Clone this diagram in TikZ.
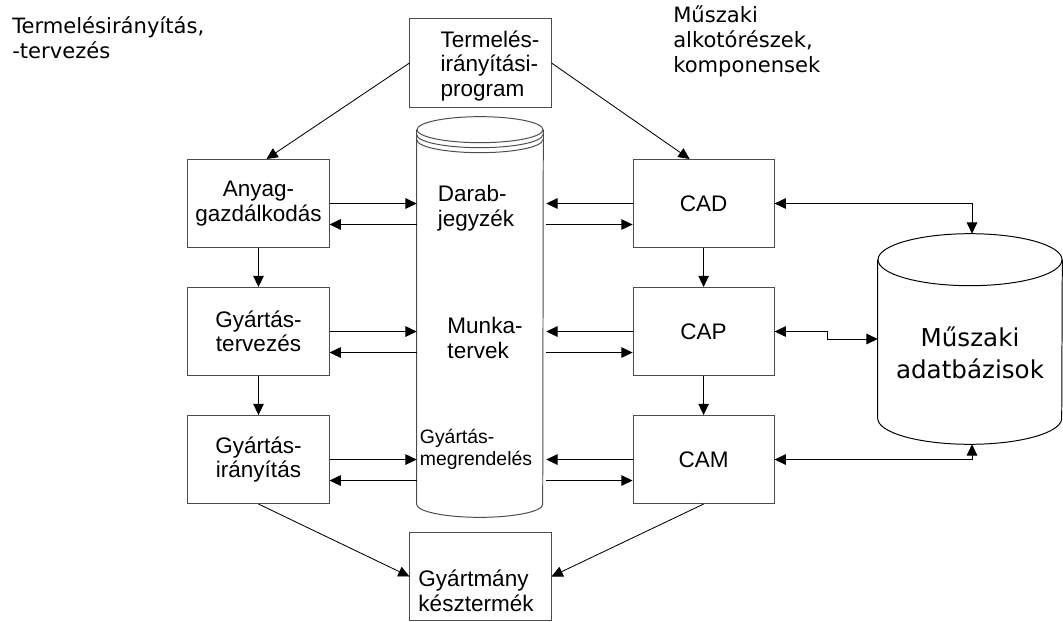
\documentclass[tikz,border=0pt]{standalone}
\usepackage{fontspec}
\setmainfont{Liberation Sans}
\newfontfamily\comicfont{DejaVu Sans}
\usetikzlibrary{arrows.meta,positioning,calc}

\tikzset{
  box/.style={draw=black!70, line width=0.7pt, minimum width=3.525cm,
    minimum height=2.2cm, inner sep=0pt, align=center,
    font=\fontsize{16}{17.5}\selectfont},
  conn/.style={line width=0.6pt, -{Triangle[length=8pt,width=7.5pt]}},
  dbl/.style={line width=0.6pt,
    {Triangle[length=8pt,width=7.5pt]}-{Triangle[length=8pt,width=7.5pt]}},
  cyl/.style={draw=black!70, line width=0.7pt},
  dbtext/.style={align=left, inner sep=0pt, font=\fontsize{16}{17.5}\selectfont},
  comic/.style={align=left, inner sep=0pt, font=\comicfont\fontsize{15}{18}\selectfont}
}

\begin{document}
\begin{tikzpicture}[x=0.025cm, y=0.025cm]
    \useasboundingbox (0,0) rectangle (1063,621);

    % headings
    \node[comic, anchor=north west] (ttitle) at (12,605) {Termelésirányítás,\\-tervezés};
    \node[comic, anchor=north west] (mtitle) at (673,616) {Műszaki\\alkotórészek,\\komponensek};

    % program box
    \node[box] (prog) at (480.5,558) {};
    \node[dbtext] (progtext) at (490,555) {Termelés-\\irányítási-\\program};

    % left column
    \node[box] (anyag) at (258.5,417.5) {Anyag-\\gazdálkodás};
    \node[box, below=0.975cm of anyag] (gyttervez) {Gyártás-\\tervezés};
    \node[box, below=0.975cm of gyttervez] (gytiranyit) {Gyártás-\\irányítás};

    % right column
    \node[box, right=7.575cm of anyag] (cad) {CAD};
    \node[box, below=0.975cm of cad] (cap) {CAP};
    \node[box, below=0.975cm of cap] (cam) {CAM};

    % product
    \node[box] (termek) at (480.5,44.5) {};
    \node[dbtext] (termektext) at (476,30) {Gyártmány\\késztermék};

    % central database
    \node[minimum width=3.15cm, minimum height=9.35cm, inner sep=0pt] (db) at (480,304) {};
    \draw[cyl] (db.north west) -- (db.south west)
        arc[start angle=180, end angle=360, x radius=63, y radius=13] -- (db.north east);
    \draw[cyl] (db.north) ellipse [x radius=63, y radius=13];
    \draw[cyl] ($(db.north west)+(0,-5)$) arc[start angle=180, end angle=360, x radius=63, y radius=13];
    \draw[cyl] ($(db.north west)+(0,-10)$) arc[start angle=180, end angle=360, x radius=63, y radius=13];
    \node[dbtext] (darab) at (476,413) {Darab-\\jegyzék};
    \node[dbtext] (munka) at (485,283) {Munka-\\tervek};
    \node[dbtext, font=\fontsize{13.8}{15.5}\selectfont] (megrend) at (476,172) {Gyártás-\\megrendelés};

    % engineering database
    \node[minimum width=4.6cm, minimum height=3.95cm, inner sep=0pt] (mdb) at (970,282) {};
    \draw[line width=0.7pt] (mdb.north west) -- (mdb.south west)
        arc[start angle=180, end angle=360, x radius=92, y radius=26] -- (mdb.north east);
    \draw[line width=0.7pt] (mdb.north) ellipse [x radius=92, y radius=26];
    \node[align=center, inner sep=0pt, font=\comicfont\fontsize{17.5}{22.5}\selectfont] (mdbtext) at (970,268) {Műszaki\\adatbázisok};

    % program to both columns
    \draw[conn] (prog.west) -- ($(anyag.north)+(8,0)$);
    \draw[conn] (prog.east) -- ($(cad.north)+(-14,0)$);

    % down the columns
    \draw[conn] (anyag) -- (gyttervez);
    \draw[conn] (gyttervez) -- (gytiranyit);
    \draw[conn] (cad) -- (cap);
    \draw[conn] (cap) -- (cam);

    % to the product
    \draw[conn] (gytiranyit.south) -- (termek.west);
    \draw[conn] (cam.south) -- (termek.east);

    % exchange with the central database
    \foreach \b in {anyag,gyttervez,gytiranyit} {
        \draw[conn] (\b.east) -- (\b.east -| db.west);
        \draw[conn] ([yshift=-0.525cm]\b.east -| db.west) -- ([yshift=-0.525cm]\b.east);
    }
    \foreach \b in {cad,cap,cam} {
        \draw[conn] (\b.west) -- ([xshift=0.075cm]\b.west -| db.east);
        \draw[conn] ([yshift=-0.525cm,xshift=0.075cm]\b.west -| db.east) -- ([yshift=-0.525cm]\b.west);
    }

    % exchange with the engineering database
    \draw[dbl] (cad.east) -| ($(mdb.north)+(2,26)$);
    \draw[dbl] (cap.east) -- ++(53,0) |- (mdb.west);
    \draw[dbl] (cam.east) -| ($(mdb.south)+(2,-26)$);
\end{tikzpicture}
\end{document}
